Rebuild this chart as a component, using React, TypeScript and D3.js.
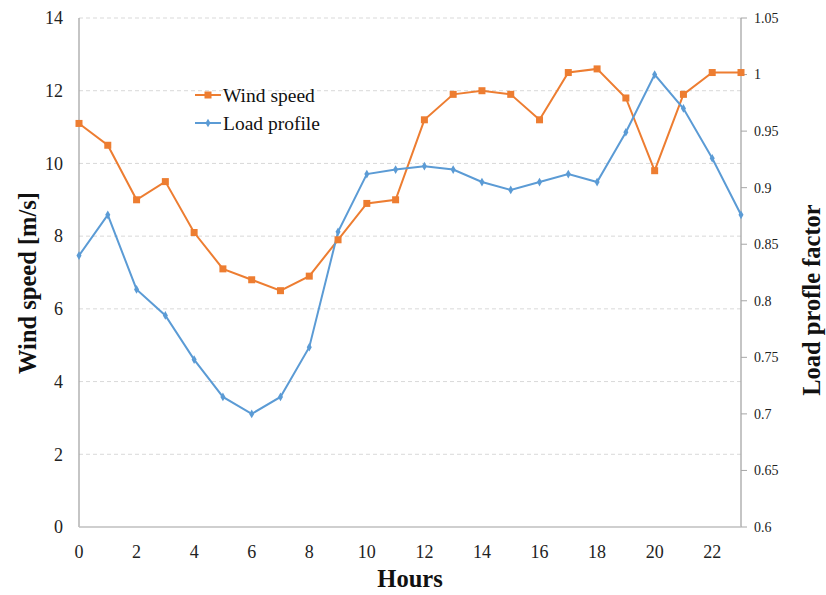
import React from "react";
import * as d3 from "d3";

const hours = d3.range(0, 24);
const windSpeed = [11.1, 10.5, 9.0, 9.5, 8.1, 7.1, 6.8, 6.5, 6.9, 7.9, 8.9, 9.0, 11.2, 11.9, 12.0, 11.9, 11.2, 12.5, 12.6, 11.8, 9.8, 11.9, 12.5, 12.5];
const loadProfile = [0.84, 0.876, 0.81, 0.787, 0.748, 0.715, 0.70, 0.715, 0.759, 0.861, 0.912, 0.916, 0.919, 0.916, 0.905, 0.898, 0.905, 0.912, 0.905, 0.949, 1.0, 0.97, 0.926, 0.876];
const xTicks = [0, 2, 4, 6, 8, 10, 12, 14, 16, 18, 20, 22];
const leftTicks = [0, 2, 4, 6, 8, 10, 12, 14];
const rightTicks = [0.6, 0.65, 0.7, 0.75, 0.8, 0.85, 0.9, 0.95, 1, 1.05];

const W = 826, H = 595;
const M = { left: 79, right: 741, top: 18, bottom: 527 };
const ORANGE = "#ED7D31";
const BLUE = "#5B9BD5";
const FONT = "'Liberation Serif', 'Times New Roman', serif";

export default function App() {
  const x = d3.scaleLinear().domain([0, 23]).range([M.left, M.right]);
  const yL = d3.scaleLinear().domain([0, 14]).range([M.bottom, M.top]);
  const yR = d3.scaleLinear().domain([0.6, 1.05]).range([M.bottom, M.top]);
  const lineW = d3.line<number>().x((_, i) => x(hours[i])).y((d) => yL(d));
  const lineL = d3.line<number>().x((_, i) => x(hours[i])).y((d) => yR(d));

  return (
    <svg width={W} height={H} style={{ position: "absolute", left: 0, top: 0, background: "#fff" }} fontFamily={FONT}>
      <rect x={0} y={0} width={W} height={H} fill="#fff" />
      {leftTicks.filter((t) => t > 0).map((t) => (
        <line key={t} x1={M.left} x2={M.right} y1={yL(t)} y2={yL(t)} stroke="#d9d9d9" strokeWidth={1} strokeDasharray="4,3" />
      ))}
      <line x1={M.left} x2={M.left} y1={M.top} y2={M.bottom} stroke="#a6a6a6" strokeWidth={1.3} />
      <line x1={M.right} x2={M.right} y1={M.top} y2={M.bottom} stroke="#a6a6a6" strokeWidth={1.3} />
      <line x1={M.left} x2={M.right} y1={M.bottom} y2={M.bottom} stroke="#bfbfbf" strokeWidth={1.5} />
      {rightTicks.map((t) => (
        <g key={t}>
          <line x1={M.right} x2={M.right + 6} y1={yR(t)} y2={yR(t)} stroke="#a6a6a6" strokeWidth={1} />
          <text x={M.right + 13} y={yR(t)} dy="0.35em" fontSize={14} fill="#222">{String(t)}</text>
        </g>
      ))}
      {leftTicks.map((t) => (
        <text key={t} x={63} y={yL(t)} dy="0.35em" textAnchor="end" fontSize={18} fill="#222">{t}</text>
      ))}
      {xTicks.map((t) => (
        <text key={t} x={x(t)} y={558} textAnchor="middle" fontSize={18} fill="#222">{t}</text>
      ))}
      <path d={lineW(windSpeed) || ""} fill="none" stroke={ORANGE} strokeWidth={2} />
      <path d={lineL(loadProfile) || ""} fill="none" stroke={BLUE} strokeWidth={2} />
      {windSpeed.map((v, i) => (
        <rect key={i} x={x(hours[i]) - 3.5} y={yL(v) - 3.5} width={7} height={7} fill={ORANGE} />
      ))}
      {loadProfile.map((v, i) => (
        <path key={i} d={d3.symbol(d3.symbolDiamond, 22)() || ""} transform={`translate(${x(hours[i])},${yR(v)})`} fill={BLUE} />
      ))}
      <g>
        <line x1={195} x2={221} y1={95} y2={95} stroke={ORANGE} strokeWidth={2} />
        <rect x={204.5} y={91.5} width={7} height={7} fill={ORANGE} />
        <text x={223} y={95} dy="0.35em" fontSize={19.5} fill="#111">Wind speed</text>
        <line x1={195} x2={221} y1={123} y2={123} stroke={BLUE} strokeWidth={2} />
        <path d={d3.symbol(d3.symbolDiamond, 22)() || ""} transform="translate(208,123)" fill={BLUE} />
        <text x={223} y={123} dy="0.35em" fontSize={19.5} fill="#111">Load profile</text>
      </g>
      <text x={410} y={587} textAnchor="middle" fontSize={24.5} fontWeight="bold" fill="#111">Hours</text>
      <text transform="translate(36,283) rotate(-90)" textAnchor="middle" fontSize={24.5} fontWeight="bold" fill="#111">Wind speed [m/s]</text>
      <text transform="translate(820,300) rotate(-90)" textAnchor="middle" fontSize={24.5} fontWeight="bold" fill="#111">Load profle factor</text>
    </svg>
  );
}
